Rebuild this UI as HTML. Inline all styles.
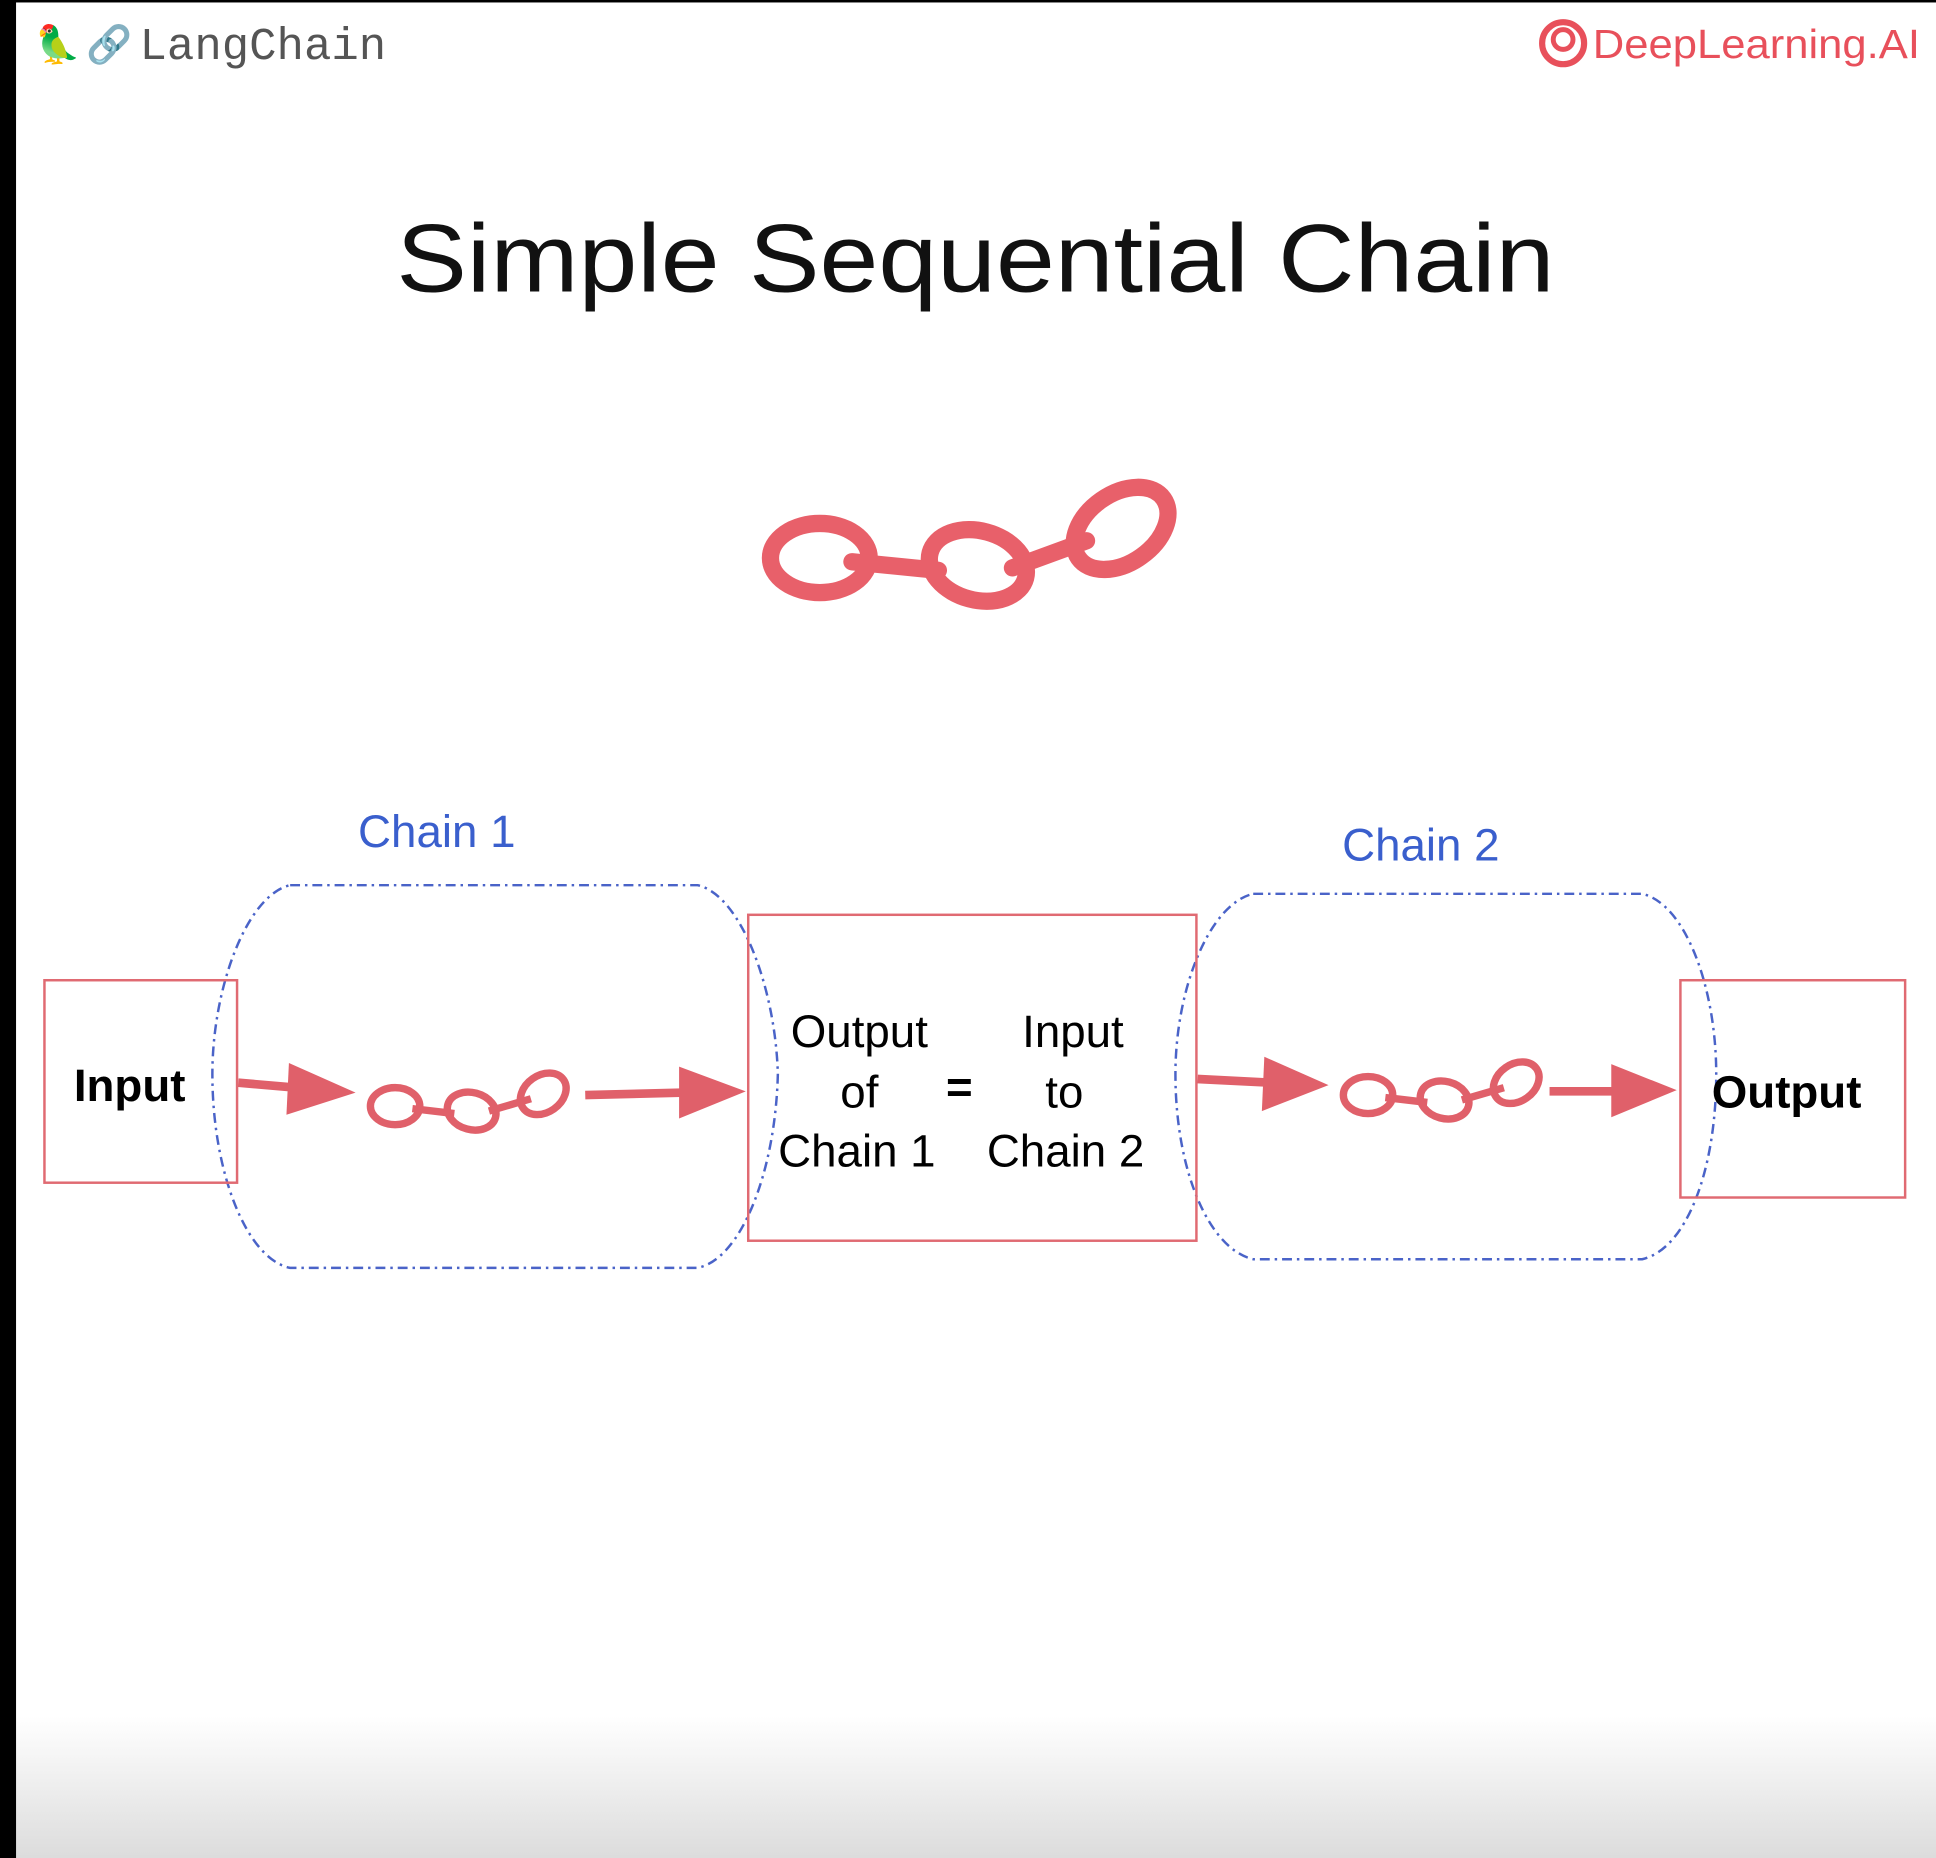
<!DOCTYPE html>
<html><head><meta charset="utf-8"><style>
html,body{margin:0;padding:0;width:1936px;height:1858px;overflow:hidden;background:#fff}
svg{display:block}
</style></head><body>
<svg width="1936" height="1858" viewBox="0 0 1568 1505" preserveAspectRatio="none" xmlns="http://www.w3.org/2000/svg">
<defs>
<linearGradient id="bg" x1="0" y1="0" x2="0" y2="1">
<stop offset="0" stop-color="#fff"/><stop offset="1" stop-color="#dcdcdc"/>
</linearGradient>
<g id="sc">
<ellipse cx="0" cy="0" rx="20" ry="15" fill="none" stroke="#e0606a" stroke-width="6"/>
<line x1="14" y1="2" x2="48" y2="6" stroke="#e0606a" stroke-width="6"/>
<ellipse cx="62" cy="4" rx="20" ry="15" transform="rotate(15 62 4)" fill="none" stroke="#e0606a" stroke-width="6"/>
<line x1="76" y1="4" x2="110" y2="-6" stroke="#e0606a" stroke-width="6"/>
<ellipse cx="120" cy="-10" rx="20" ry="15" transform="rotate(-35 120 -10)" fill="none" stroke="#e0606a" stroke-width="6"/>
</g>
</defs>
<rect x="0" y="0" width="1568" height="1505" fill="#fff"/>
<rect x="0" y="1390" width="1568" height="115" fill="url(#bg)"/>
<rect x="0" y="0" width="13" height="1505" fill="#000"/>
<rect x="0" y="0" width="1568" height="2" fill="#000"/>

<text x="28" y="46" font-size="30">🦜</text>
<text x="70" y="46" font-size="30" fill="#777">🔗</text>
<text x="113" y="48" font-family="Liberation Mono, monospace" font-size="37" fill="#555">LangChain</text>
<circle cx="1266" cy="35" r="17" fill="none" stroke="#e8505b" stroke-width="5"/>
<circle cx="1266" cy="32" r="8" fill="none" stroke="#e8505b" stroke-width="4"/>
<text x="1290" y="47" font-family="Liberation Sans, sans-serif" font-size="33" fill="#e8505b" textLength="265" lengthAdjust="spacingAndGlyphs">DeepLearning.AI</text>

<text x="790" y="236" text-anchor="middle" font-family="Liberation Sans, sans-serif" font-size="78" fill="#111" textLength="938" lengthAdjust="spacingAndGlyphs">Simple Sequential Chain</text>

<g fill="none" stroke="#e8606a" stroke-width="14">
<ellipse cx="664" cy="452" rx="40" ry="28"/>
<line x1="690" y1="455" x2="760" y2="462" stroke-linecap="round"/>
<ellipse cx="792" cy="458" rx="40" ry="28" transform="rotate(15 792 458)"/>
<line x1="820" y1="460" x2="880" y2="438" stroke-linecap="round"/>
<ellipse cx="908" cy="428" rx="42" ry="28" transform="rotate(-35 908 428)"/>
</g>

<text x="290" y="686" font-family="Liberation Sans, sans-serif" font-size="37" fill="#3a5fcd">Chain 1</text>
<text x="1087" y="697" font-family="Liberation Sans, sans-serif" font-size="37" fill="#3a5fcd">Chain 2</text>

<g fill="none" stroke="#4a63c8" stroke-width="2" stroke-dasharray="8 4 2 4">
<path d="M235,717 L565,717 C600,725 628,800 630,870 C628,950 600,1020 565,1027 L235,1027 C200,1020 172,950 172,870 C172,800 200,725 235,717 Z"/>
<path d="M1015,724 L1330,724 C1365,732 1390,800 1390,870 C1390,950 1365,1012 1330,1020 L1015,1020 C980,1012 952,950 952,870 C952,800 980,732 1015,724 Z"/>
</g>

<g fill="none" stroke="#e06a72" stroke-width="2">
<rect x="36" y="794" width="156" height="164"/>
<rect x="606" y="741" width="363" height="264"/>
<rect x="1361" y="794" width="182" height="176"/>
</g>

<g font-family="Liberation Sans, sans-serif" font-size="37" fill="#000" text-anchor="middle">
<text x="105" y="892" font-weight="bold">Input</text>
<text x="1447" y="897" font-weight="bold">Output</text>
<text x="696" y="848">Output</text>
<text x="696" y="897">of</text>
<text x="694" y="945">Chain 1</text>
<text x="869" y="848">Input</text>
<text x="862" y="897">to</text>
<text x="863" y="945">Chain 2</text>
<text x="777" y="893" font-weight="bold">=</text>
</g>

<g fill="#e0606a" stroke="#e0606a">
<line x1="193" y1="877" x2="240" y2="881" stroke-width="7"/>
<polygon points="234,861 288,885 232,903" stroke="none"/>
<line x1="474" y1="887" x2="555" y2="885" stroke-width="7"/>
<polygon points="550,864 604,884 550,906" stroke="none"/>
<line x1="970" y1="874" x2="1030" y2="877" stroke-width="7"/>
<polygon points="1024,856 1076,879 1022,900" stroke="none"/>
<line x1="1255" y1="884" x2="1310" y2="884" stroke-width="7"/>
<polygon points="1305,862 1358,883 1305,905" stroke="none"/>
</g>

<use href="#sc" x="320" y="896"/>
<use href="#sc" x="1108" y="887"/>
</svg>
</body></html>
